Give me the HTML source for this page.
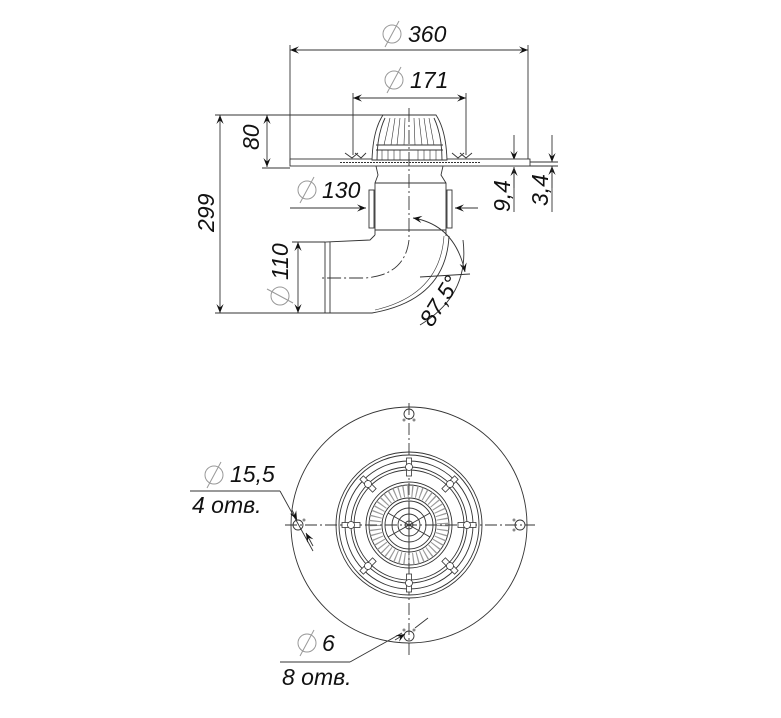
<!DOCTYPE html>
<html><head><meta charset="utf-8"><style>
body{margin:0;background:#fff}
svg{display:block}
text{font-family:"Liberation Sans",sans-serif;font-style:italic;font-size:23px;fill:#111}
</style></head><body>
<svg width="781" height="718" viewBox="0 0 781 718" xmlns="http://www.w3.org/2000/svg">
<defs>
<marker id="a" viewBox="0 0 10 10" refX="10" refY="5" markerWidth="9" markerHeight="9" orient="auto-start-reverse" markerUnits="userSpaceOnUse"><path d="M0,1 L10,5 L0,9 L4,5 z" fill="#111"/></marker>
<g id="dia"><circle cx="0" cy="0" r="9" fill="none" stroke="#999" stroke-width="1"/><line x1="-7" y1="13" x2="7" y2="-13" stroke="#999" stroke-width="1"/></g>
<g id="wing" stroke="#333" stroke-width="0.8" fill="#fff"><rect x="-2.5" y="-9" width="5" height="18"/><circle r="3.5"/></g>
</defs>
<g stroke="#333" stroke-width="0.9" fill="none">
<line x1="290" y1="50" x2="528" y2="50" marker-start="url(#a)" marker-end="url(#a)"/>
<line x1="290" y1="45" x2="290" y2="163"/><line x1="528" y1="45" x2="528" y2="163"/>
<line x1="353" y1="98" x2="466" y2="98" marker-start="url(#a)" marker-end="url(#a)"/>
<line x1="353" y1="93" x2="353" y2="155"/><line x1="466" y1="93" x2="466" y2="155"/>
<line x1="215" y1="115" x2="385" y2="115"/>
<line x1="220" y1="115" x2="220" y2="313" marker-start="url(#a)" marker-end="url(#a)"/>
<line x1="267" y1="115" x2="267" y2="167" marker-start="url(#a)" marker-end="url(#a)"/>
<line x1="262" y1="168" x2="290" y2="168"/>
<line x1="215" y1="313" x2="325" y2="313"/>
<line x1="290" y1="208" x2="366" y2="208" marker-end="url(#a)"/>
<line x1="478" y1="208" x2="455" y2="208" marker-end="url(#a)"/>
<line x1="298" y1="242" x2="298" y2="313" marker-start="url(#a)" marker-end="url(#a)"/>
<line x1="292" y1="242" x2="325" y2="242"/>
<line x1="514" y1="135" x2="514" y2="160" marker-end="url(#a)"/><line x1="514" y1="188" x2="514" y2="167" marker-end="url(#a)"/>
<line x1="514" y1="167" x2="514" y2="212"/>
<line x1="552" y1="135" x2="552" y2="162" marker-end="url(#a)"/><line x1="552" y1="188" x2="552" y2="166" marker-end="url(#a)"/>
<line x1="552" y1="166" x2="552" y2="212"/>
<line x1="500" y1="162" x2="558" y2="162"/><line x1="500" y1="166" x2="558" y2="166"/>
<rect x="290" y="159" width="240" height="7" fill="#fff"/>
<line x1="340" y1="162.5" x2="480" y2="162.5" stroke-dasharray="2,1"/>
<path d="M383,115 L436,115 Q446,130 447,160 L372,160 Q373,130 383,115 Z" fill="#fff"/>
<path d="M385,118 Q377,135 377,160 M434,118 Q442,135 442,160" />
<line x1="376" y1="145" x2="443" y2="145"/><line x1="376" y1="150" x2="443" y2="150"/>
<g stroke-width="0.6">
<path d="M390,118 L384,145 M395,118 L391,145 M400,118 L397,145 M405,118 L404,145 M414,118 L415,145 M419,118 L422,145 M424,118 L428,145 M429,118 L434,145"/>
<path d="M382,150 L382,160 M388,150 L388,160 M394,150 L394,160 M400,150 L400,160 M418,150 L418,160 M424,150 L424,160 M430,150 L430,160 M436,150 L436,160"/>
</g>
<path d="M345,153 L352,158 L358,153 M355,153 L361,158 L366,153 M460,153 L466,158 L472,153 M452,153 L458,158 L464,153"/>
<path d="M376,166 L378,175 L375,183 L375,235 M443,166 L441,175 L446,183 L446,236"/>
<line x1="375" y1="183" x2="446" y2="183"/>
<line x1="375" y1="230" x2="446" y2="230"/>
<rect x="369" y="190" width="5" height="38"/><rect x="447" y="190" width="5" height="38"/>
<path d="M375,235 L370,240 L325,242 L325,313 L372,313 Q446,300 449,236"/>
<path d="M330,242 L330,313"/>
<path d="M375,310 Q440,295 444,236" stroke-width="0.6"/>
<path d="M409,108 L409,240 Q405,275 365,278 L320,278" stroke-dasharray="14,3,2,3"/>
<line x1="420" y1="277" x2="470" y2="274"/>
<path d="M413,218 Q455,225 465,272" marker-start="url(#a)" marker-end="url(#a)"/>
<path d="M463,240 Q470,295 420,325"/>
<circle cx="409" cy="525" r="118"/>
<circle cx="409" cy="525" r="73"/><circle cx="409" cy="525" r="70"/>
<circle cx="409" cy="525" r="64"/><circle cx="409" cy="525" r="58"/><circle cx="409" cy="525" r="55"/>
<circle cx="409" cy="525" r="43"/><circle cx="409" cy="525" r="40"/>
<circle cx="409" cy="525" r="27"/><circle cx="409" cy="525" r="24"/><circle cx="409" cy="525" r="17"/><circle cx="409" cy="525" r="11"/><circle cx="409" cy="525" r="4"/>
<circle cx="409" cy="525" r="34" stroke-width="12" stroke="#999" stroke-dasharray="1.2,3.2"/>
<path d="M409,525 L409,501 M409,525 L409,549 M409,525 L388,513 M409,525 L430,513 M409,525 L388,537 M409,525 L430,537"/>
<line x1="409" y1="403" x2="409" y2="655" stroke-dasharray="12,3,2,3"/>
<line x1="285" y1="525" x2="535" y2="525" stroke-dasharray="12,3,2,3"/>
<circle cx="409" cy="414" r="5"/><circle cx="409" cy="636" r="5"/><circle cx="298" cy="525" r="5"/><circle cx="520" cy="525" r="5"/>
<line x1="190" y1="491" x2="280" y2="491"/><line x1="280" y1="491" x2="313" y2="551"/>
<path d="M292,510 L297,520" marker-end="url(#a)"/><path d="M313,546 L306,533" marker-end="url(#a)"/>
<line x1="280" y1="662" x2="350" y2="662"/><line x1="350" y1="662" x2="402" y2="633"/>
<path d="M395,640 L405,634" marker-end="url(#a)"/><line x1="415" y1="628" x2="428" y2="618"/>
</g>
<g fill="#888"><circle cx="404" cy="420" r="1.5"/><circle cx="414" cy="420" r="1.5"/><circle cx="304" cy="520" r="1.5"/><circle cx="514" cy="520" r="1.5"/><circle cx="514" cy="530" r="1.5"/><circle cx="404" cy="630" r="1.5"/><circle cx="414" cy="630" r="1.5"/></g>
<g>
<use href="#wing" transform="translate(409,467)"/><use href="#wing" transform="translate(409,583)"/>
<use href="#wing" transform="translate(351,525) rotate(90)"/><use href="#wing" transform="translate(467,525) rotate(90)"/>
<use href="#wing" transform="translate(368,484) rotate(-45)"/><use href="#wing" transform="translate(450,484) rotate(45)"/>
<use href="#wing" transform="translate(368,566) rotate(45)"/><use href="#wing" transform="translate(450,566) rotate(-45)"/>
</g>
<use href="#dia" transform="translate(392,34)"/><text x="408" y="42">360</text>
<use href="#dia" transform="translate(394,80)"/><text x="410" y="88">171</text>
<use href="#dia" transform="translate(307,190)"/><text x="322" y="198">130</text>
<use href="#dia" transform="translate(214,475)"/><text x="230" y="482">15,5</text>
<text x="192" y="513">4  отв.</text>
<use href="#dia" transform="translate(307,643)"/><text x="322" y="651">6</text>
<text x="282" y="685">8  отв.</text>
<text transform="translate(259,150) rotate(-90)">80</text>
<text transform="translate(214,232) rotate(-90)">299</text>
<use href="#dia" transform="translate(280,296) rotate(-90)"/><text transform="translate(288,280) rotate(-90)">110</text>
<text transform="translate(510,212) rotate(-90)">9,4</text>
<text transform="translate(548,206) rotate(-90)">3,4</text>
<text transform="translate(432,328) rotate(-58)">87,5°</text>
</svg>
</body></html>
